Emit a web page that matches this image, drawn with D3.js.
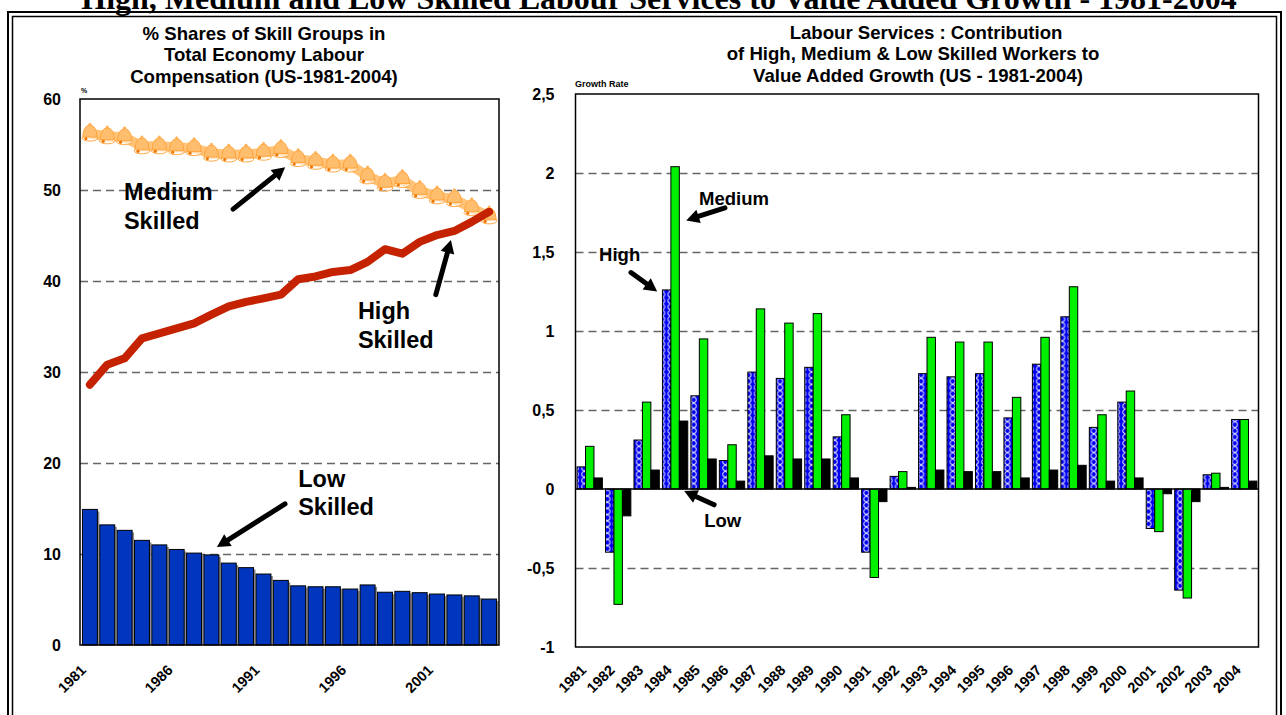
<!DOCTYPE html>
<html>
<meta charset="utf-8">
<style>
body {
  margin: 0;
  background: #fff;
  font-family: "Liberation Sans", Arial, sans-serif;
}
text { font-weight: bold; fill: #000; }
.grid line { stroke: #666; stroke-width: 1.3; stroke-dasharray: 8,5; }
.grid path, .yaxis path { display: none; }
.yaxis text { font-size: 16px; font-weight: bold; font-family: "Liberation Sans", Arial, sans-serif; }
.xlab { font-size: 14.5px; }
.title { font-size: 18.6px; }
.note-big { font-size: 23.5px; }
.note { font-size: 18.5px; }
</style>
<body>
<script src="https://cdnjs.cloudflare.com/ajax/libs/d3/7.8.5/d3.min.js"></script>
<script>

// ---- data ----
var years = ["1981","1982","1983","1984","1985","1986","1987","1988","1989","1990","1991","1992",
             "1993","1994","1995","1996","1997","1998","1999","2000","2001","2002","2003","2004"];

// left chart: % shares of labour compensation
var lowShare    = [14.9,13.2,12.6,11.5,11.0,10.5,10.1,9.9,9.0,8.5,7.8,7.1,6.5,6.4,6.4,6.15,6.6,5.8,5.9,5.75,5.6,5.5,5.4,5.05];
var highShare   = [28.6,30.8,31.5,33.7,34.25,34.8,35.35,36.3,37.2,37.7,38.1,38.5,40.2,40.5,41.0,41.2,42.1,43.5,43.0,44.3,45.05,45.5,46.5,47.6];
var mediumShare = [56.2,55.9,55.8,54.8,54.8,54.7,54.6,54.0,53.9,53.9,54.1,54.4,53.4,53.1,52.8,52.8,51.5,50.7,51.1,49.9,49.3,49.0,48.0,47.1];
var leftTicks = [0,10,20,30,40,50,60];
var leftYearLabels = ["1981","1986","1991","1996","2001"];

// right chart: contribution to value added growth
var highGrowth   = [0.14,-0.40,0.31,1.26,0.59,0.18,0.74,0.70,0.77,0.33,-0.40,0.08,0.73,0.71,0.73,0.45,0.79,1.09,0.39,0.55,-0.25,-0.64,0.09,0.44];
var mediumGrowth = [0.27,-0.73,0.55,2.04,0.95,0.28,1.14,1.05,1.11,0.47,-0.56,0.11,0.96,0.93,0.93,0.58,0.96,1.28,0.47,0.62,-0.27,-0.69,0.10,0.44];
var lowGrowth    = [0.07,-0.17,0.12,0.43,0.19,0.05,0.21,0.19,0.19,0.07,-0.08,0.01,0.12,0.11,0.11,0.07,0.12,0.15,0.05,0.07,-0.03,-0.08,0.01,0.05];
var rightTicks = [-1,-0.5,0,0.5,1,1.5,2,2.5];
var series = ["high","medium","low"];

var svg = d3.select("body").append("svg")
    .attr("width", 1286)
    .attr("height", 715);
var defs = svg.append("defs");

// page title (cut at the top, as in the source) and double frame
svg.append("text")
    .attr("x", 659).attr("y", 8.5)
    .attr("text-anchor", "middle")
    .style("font-family", "'Liberation Serif', 'Times New Roman', serif")
    .style("font-size", "32px")
    .text("High, Medium and Low Skilled Labour Services to Value Added Growth - 1981-2004");

svg.append("rect").attr("x", 8).attr("y", 12).attr("width", 1273).attr("height", 720)
    .attr("fill", "none").attr("stroke", "#000").attr("stroke-width", 2);
svg.append("rect").attr("x", 12.5).attr("y", 16.5).attr("width", 1264).attr("height", 720)
    .attr("fill", "none").attr("stroke", "#000").attr("stroke-width", 1.5);

function arrow(g, x1, y1, x2, y2) {
  var dx = x2 - x1, dy = y2 - y1, len = Math.sqrt(dx*dx + dy*dy);
  var ux = dx / len, uy = dy / len, hl = 13, hw = 7;
  var bx = x2 - ux*hl, by = y2 - uy*hl;
  g.append("line")
      .attr("x1", x1).attr("y1", y1).attr("x2", bx + ux*2).attr("y2", by + uy*2)
      .attr("stroke", "#000").attr("stroke-width", 5).attr("stroke-linecap", "round");
  g.append("path")
      .attr("d", "M" + x2 + "," + y2 + "L" + (bx - uy*hw) + "," + (by + ux*hw) + "L" + (bx + uy*hw) + "," + (by - ux*hw) + "Z")
      .attr("fill", "#000");
}

function lines(g, x, y0, dy, arr, cls, anchor) {
  arr.forEach(function(t, i) {
    g.append("text").attr("class", cls).attr("x", x).attr("y", y0 + i*dy)
        .attr("text-anchor", anchor || "start").text(t);
  });
}

// =============== LEFT CHART ===============
var xL = d3.scaleBand().domain(years).range([80, 499]).paddingInner(0.14).paddingOuter(0.14);
var yL = d3.scaleLinear().domain([0, 60]).range([645, 99]);
var cL = function(i) { return xL(years[0]) + xL.bandwidth()/2 + i * xL.step(); };
var gL = svg.append("g");

lines(gL, 264, 40, 21.3, ["% Shares of Skill Groups in", "Total Economy Labour", "Compensation (US-1981-2004)"], "title", "middle");
gL.append("text").attr("x", 81).attr("y", 93).style("font-size", "7px").text("%");

gL.append("g").attr("class", "grid")
    .attr("transform", "translate(80,0)")
    .call(d3.axisLeft(yL).tickValues([10,20,30,40,50]).tickSize(-419).tickFormat(""));

gL.append("g").attr("class", "yaxis")
    .attr("transform", "translate(80,0)")
    .call(d3.axisLeft(yL).tickValues(leftTicks).tickSize(0).tickPadding(19));

// low skilled bars with grey shadow
gL.selectAll(".shadow").data(lowShare).enter().append("rect")
    .attr("x", function(d, i) { return xL(years[i]) + 2; })
    .attr("y", function(d) { return yL(d) + 2; })
    .attr("width", xL.bandwidth())
    .attr("height", function(d) { return yL(0) - yL(d) - 2; })
    .attr("fill", "#8c8c8c");
gL.selectAll(".lowbar").data(lowShare).enter().append("rect")
    .attr("x", function(d, i) { return xL(years[i]); })
    .attr("y", function(d) { return yL(d); })
    .attr("width", xL.bandwidth())
    .attr("height", function(d) { return yL(0) - yL(d); })
    .attr("fill", "#0036BE").attr("stroke", "#000").attr("stroke-width", 1);

// medium skilled: thick band with bell markers
var lineL = d3.line()
    .x(function(d, i) { return cL(i); })
    .y(function(d) { return yL(d); });
gL.append("path").datum(mediumShare).attr("d", lineL)
    .attr("fill", "none").attr("stroke", "#FFC47A").attr("stroke-width", 10).attr("stroke-linejoin", "round");
var bells = gL.selectAll(".bell").data(mediumShare).enter().append("g")
    .attr("transform", function(d, i) { return "translate(" + cL(i) + "," + yL(d) + ")"; });
bells.append("ellipse").attr("cx", 0).attr("cy", 4.5).attr("rx", 7.8).attr("ry", 3)
    .attr("fill", "#fff").attr("fill-opacity", 0.5).attr("stroke", "#FF9F33").attr("stroke-width", 0.9);
bells.append("path").attr("d", "M-7,3.5C-7,-4 -4,-8.5 0,-8.5C4,-8.5 7,-4 7,3.5Z")
    .attr("fill", "#FFBE6E").attr("stroke", "#FF9F33").attr("stroke-width", 0.9);
bells.append("circle").attr("cx", 0).attr("cy", -9.3).attr("r", 1.1)
    .attr("fill", "#FFBE6E").attr("stroke", "#FF9F33").attr("stroke-width", 0.7);
bells.append("circle").attr("cx", -4).attr("cy", 5).attr("r", 1.6).attr("fill", "#F07800");

// high skilled thick red line
gL.append("path").datum(highShare).attr("d", lineL)
    .attr("fill", "none").attr("stroke", "#C42200").attr("stroke-width", 8)
    .attr("stroke-linejoin", "round").attr("stroke-linecap", "round");

gL.append("rect").attr("x", 80).attr("y", 99).attr("width", 419).attr("height", 546)
    .attr("fill", "none").attr("stroke", "#000").attr("stroke-width", 1.5);

leftYearLabels.forEach(function(y) {
  var i = years.indexOf(y);
  gL.append("text").attr("class", "xlab").attr("text-anchor", "end")
      .attr("transform", "translate(" + (cL(i) - 3) + ",671) rotate(-45)").text(y);
});

// annotations (band index, value)
lines(gL, cL(1.96), yL(48.9), 29, ["Medium", "Skilled"], "note-big");
arrow(gL, cL(8.25), yL(47.9), cL(11.25), yL(52.5));
lines(gL, cL(15.44), yL(35.8), 29, ["High", "Skilled"], "note-big");
arrow(gL, cL(19.93), yL(38.5), cL(20.8), yL(44.5));
lines(gL, cL(12.0), yL(17.4), 28, ["Low", "Skilled"], "note-big");
arrow(gL, cL(11.24), yL(15.5), cL(7.32), yL(10.77));

// =============== RIGHT CHART ===============
var xR = d3.scaleBand().domain(years).range([575.5, 1258.5]).paddingInner(0.11).paddingOuter(0.055);
var xS = d3.scaleBand().domain(series).range([0, xR.bandwidth()]);
var yR = d3.scaleLinear().domain([-1, 2.5]).range([647, 94]);
var cR = function(i) { return xR(years[0]) + xR.bandwidth()/2 + i * xR.step(); };
var gR = svg.append("g");
var fmt = function(d) { return String(d).replace(".", ","); };

gR.append("text").attr("class", "title").attr("x", 926).attr("y", 38.5).attr("text-anchor", "middle").text("Labour Services : Contribution");
gR.append("text").attr("class", "title").attr("x", 913).attr("y", 60).attr("text-anchor", "middle").text("of High, Medium & Low Skilled Workers to");
gR.append("text").attr("class", "title").attr("x", 918).attr("y", 81.5).attr("text-anchor", "middle").text("Value Added Growth (US - 1981-2004)");
gR.append("text").attr("x", 575).attr("y", 87).style("font-size", "9px").text("Growth Rate");

gR.append("g").attr("class", "grid")
    .attr("transform", "translate(575.5,0)")
    .call(d3.axisLeft(yR).tickValues([-0.5,0.5,1,1.5,2]).tickSize(-683).tickFormat(""));

gR.append("g").attr("class", "yaxis")
    .attr("transform", "translate(575.5,0)")
    .call(d3.axisLeft(yR).tickValues(rightTicks).tickSize(0).tickPadding(21).tickFormat(fmt));

var rows = years.map(function(y, i) {
  return {year: y, i: i, high: highGrowth[i], medium: mediumGrowth[i], low: lowGrowth[i]};
});

// dotted pattern for the high skilled bars, one per bar so it lines up
rows.forEach(function(r) {
  var w = xS.bandwidth();
  var p = defs.append("pattern").attr("id", "hp" + r.i)
      .attr("patternUnits", "userSpaceOnUse")
      .attr("x", xR(r.year) + xS("high")).attr("y", 0)
      .attr("width", w).attr("height", 6.2);
  p.append("rect").attr("width", w).attr("height", 6.2).attr("fill", "#0000F0");
  p.append("circle").attr("cx", w/2).attr("cy", 3.1).attr("r", 2.6)
      .attr("fill", "none").attr("stroke", "#E8E8FF").attr("stroke-width", 0.9);
});

var fills = {
  high: function(r) { return "url(#hp" + r.i + ")"; },
  medium: function() { return "#00F000"; },
  low: function() { return "#000"; }
};

var grp = gR.selectAll(".yr").data(rows).enter().append("g")
    .attr("transform", function(d) { return "translate(" + xR(d.year) + ",0)"; });
grp.selectAll("rect")
    .data(function(d) { return series.map(function(k) { return {k: k, v: d[k], r: d}; }); })
    .enter().append("rect")
    .attr("x", function(d) { return xS(d.k); })
    .attr("y", function(d) { return yR(Math.max(0, d.v)); })
    .attr("width", xS.bandwidth())
    .attr("height", function(d) { return Math.abs(yR(d.v) - yR(0)); })
    .attr("fill", function(d) { return fills[d.k](d.r); })
    .attr("stroke", "#000").attr("stroke-width", 1);

gR.append("line").attr("x1", 575.5).attr("x2", 1258.5).attr("y1", yR(0)).attr("y2", yR(0))
    .attr("stroke", "#000").attr("stroke-width", 1.5);
gR.append("rect").attr("x", 575.5).attr("y", 94).attr("width", 683).attr("height", 553)
    .attr("fill", "none").attr("stroke", "#000").attr("stroke-width", 1.5);

years.forEach(function(y, i) {
  gR.append("text").attr("class", "xlab").attr("text-anchor", "end")
      .attr("transform", "translate(" + (cR(i) - 2.5) + ",671) rotate(-45)").text(y);
});

gR.append("text").attr("class", "note").attr("x", cR(3.84)).attr("y", yR(1.80)).text("Medium");
arrow(gR, cR(4.75), yR(1.78), cR(3.39), yR(1.70));
gR.append("text").attr("class", "note").attr("x", cR(0.33)).attr("y", yR(1.44)).text("High");
arrow(gR, cR(1.45), yR(1.37), cR(2.37), yR(1.25));
gR.append("text").attr("class", "note").attr("x", cR(4.02)).attr("y", yR(-0.24)).text("Low");
arrow(gR, cR(4.37), yR(-0.10), cR(3.32), yR(-0.013));

</script>
</body>
</html>
